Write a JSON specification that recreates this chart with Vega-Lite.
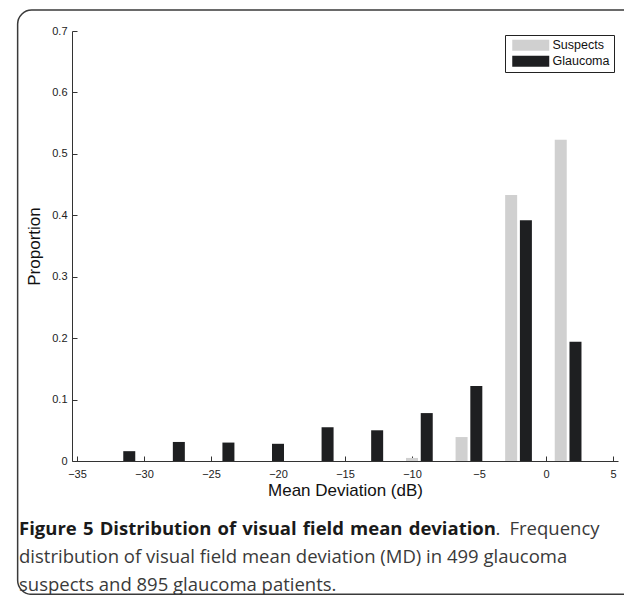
{
  "$schema": "https://vega.github.io/schema/vega-lite/v6.json",
  "width": 546,
  "height": 430,
  "autosize": {"type": "none"},
  "padding": {"left": 72, "top": 31, "right": 6, "bottom": 134},
  "background": "white",
  "config": {"view": {"stroke": null}, "font": "Liberation Sans"},
  "title": {
    "text": "Figure\u20045\u2004Distribution\u2004of\u2004visual\u2004field\u2004mean\u2004deviation",
    "subtitle": ["\u200c\u2003\u2003\u2003\u2003\u2003\u2003\u2003\u2003\u2003\u2003\u2003\u2003\u2003\u2003\u2003\u2003\u2003\u2003\u2003\u2003\u2003\u2003\u2003\u2003\u2003\u2004\u2006\u2005.\u2002Frequency", "distribution of visual field mean deviation (MD) in 499 glaucoma", "suspects and 895 glaucoma patients."],
    "orient": "bottom",
    "anchor": "start",
    "frame": "group",
    "dx": -53,
    "offset": -75,
    "font": "Open Sans",
    "fontSize": 18.5,
    "fontWeight": "bold",
    "color": "#1a1a1a",
    "subtitleFont": "Open Sans",
    "subtitleFontSize": 18.5,
    "subtitleFontWeight": "normal",
    "subtitleColor": "#3a3a3a",
    "subtitleLineHeight": 28,
    "subtitlePadding": -18.5
  },
  "resolve": {"axis": {"x": "independent", "y": "independent"}},
  "layer": [
    {
      "data": {"values": [{}]},
      "mark": {"type": "rect", "cornerRadius": 14, "fill": null, "stroke": "#3a3a3a", "strokeWidth": 1.5},
      "encoding": {
        "x": {"datum": -39.43, "type": "quantitative", "scale": {"domain": [-35, 5]}, "axis": null},
        "x2": {"datum": 7},
        "y": {"datum": 0.734, "type": "quantitative", "scale": {"domain": [0, 0.7]}, "axis": null},
        "y2": {"datum": -0.217}
      }
    },
    {
      "data": {
        "values": [
          {"md": -32.2, "proportion": 0, "group": "Suspects"},
          {"md": -28.5, "proportion": 0, "group": "Suspects"},
          {"md": -24.8, "proportion": 0, "group": "Suspects"},
          {"md": -21.1, "proportion": 0, "group": "Suspects"},
          {"md": -17.4, "proportion": 0, "group": "Suspects"},
          {"md": -13.7, "proportion": 0, "group": "Suspects"},
          {"md": -10.0, "proportion": 0.005, "group": "Suspects"},
          {"md": -6.3, "proportion": 0.039, "group": "Suspects"},
          {"md": -2.6, "proportion": 0.433, "group": "Suspects"},
          {"md": 1.1, "proportion": 0.523, "group": "Suspects"},
          {"md": -31.1, "proportion": 0.016, "group": "Glaucoma"},
          {"md": -27.4, "proportion": 0.031, "group": "Glaucoma"},
          {"md": -23.7, "proportion": 0.030, "group": "Glaucoma"},
          {"md": -20.0, "proportion": 0.028, "group": "Glaucoma"},
          {"md": -16.3, "proportion": 0.055, "group": "Glaucoma"},
          {"md": -12.6, "proportion": 0.050, "group": "Glaucoma"},
          {"md": -8.9, "proportion": 0.078, "group": "Glaucoma"},
          {"md": -5.2, "proportion": 0.122, "group": "Glaucoma"},
          {"md": -1.5, "proportion": 0.392, "group": "Glaucoma"},
          {"md": 2.2, "proportion": 0.194, "group": "Glaucoma"}
        ]
      },
      "mark": {"type": "bar", "width": 12},
      "encoding": {
        "x": {
          "field": "md",
          "type": "quantitative",
          "scale": {"domain": [-35, 5]},
          "axis": {
            "title": "Mean Deviation (dB)",
            "values": [-35, -30, -25, -20, -15, -10, -5, 0, 5],
            "grid": false,
            "tickSize": -5,
            "labelPadding": 12,
            "labelFlush": false,
            "labelOverlap": false,
            "domainColor": "#333333",
            "tickColor": "#333333",
            "labelFont": "Liberation Sans",
            "labelFontSize": 11,
            "labelColor": "#222222",
            "titleFont": "Liberation Sans",
            "titleFontSize": 17,
            "titleFontWeight": "normal",
            "titleColor": "#111111",
            "titlePadding": 3
          }
        },
        "y": {
          "field": "proportion",
          "type": "quantitative",
          "scale": {"domain": [0, 0.7]},
          "axis": {
            "title": "Proportion",
            "values": [0, 0.1, 0.2, 0.3, 0.4, 0.5, 0.6, 0.7],
            "format": ".1~f",
            "grid": false,
            "tickSize": -5,
            "labelPadding": 10,
            "labelOverlap": false,
            "domainColor": "#333333",
            "tickColor": "#333333",
            "labelFont": "Liberation Sans",
            "labelFontSize": 11,
            "labelColor": "#222222",
            "titleFont": "Liberation Sans",
            "titleFontSize": 17,
            "titleFontWeight": "normal",
            "titleColor": "#111111",
            "titlePadding": 8
          }
        },
        "color": {
          "field": "group",
          "type": "nominal",
          "scale": {"domain": ["Suspects", "Glaucoma"], "range": ["#d0d0d0", "#1e1f21"]},
          "legend": {
            "orient": "top-right",
            "offset": 4,
            "title": null,
            "strokeColor": "#222222",
            "fillColor": "white",
            "padding": 4,
            "symbolType": "M-3.083,-0.917H3.083V0.917H-3.083Z",
            "symbolSize": 144,
            "symbolOffset": 15.5,
            "symbolStrokeWidth": 0,
            "symbolOpacity": 1,
            "labelFont": "Liberation Sans",
            "labelFontSize": 12.5,
            "labelColor": "#111111",
            "labelOffset": 15.5,
            "rowPadding": 3
          }
        }
      }
    }
  ]
}
